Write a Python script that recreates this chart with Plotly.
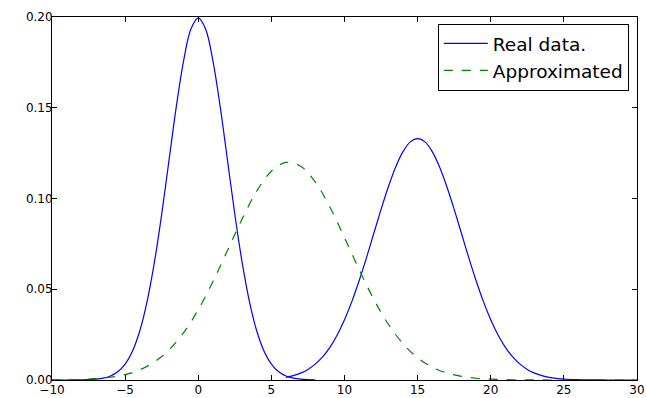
import plotly.graph_objects as go

# Real data: two separate bumps, sampled along x
real_left_x = [-10, -9.5, -9, -8.5, -8, -7.5, -7, -6.5, -6, -5.5, -5, -4.5, -4, -3.5, -3, -2.5, -2, -1.5, -1, -0.5,
               0, 0.5, 1, 1.5, 2, 2.5, 3, 3.5, 4, 4.5, 5, 5.5, 6, 6.5, 7, 7.5, 8]
real_left_y = [0.0, 0.0, 0.00001, 0.00002, 0.00007, 0.00018, 0.00044, 0.00101, 0.00222, 0.00455, 0.00876,
               0.0159, 0.0270, 0.0432, 0.0648, 0.0913, 0.1210, 0.1506, 0.1760, 0.1934,
               0.1995, 0.1934, 0.1760, 0.1506, 0.1210, 0.0913, 0.0648, 0.0432, 0.0270, 0.0159,
               0.00876, 0.00455, 0.00222, 0.00101, 0.00044, 0.00018, 0.00007]

real_right_x = [6, 6.5, 7, 7.5, 8, 8.5, 9, 9.5, 10, 10.5, 11, 11.5, 12, 12.5, 13, 13.5, 14, 14.5,
                15, 15.5, 16, 16.5, 17, 17.5, 18, 18.5, 19, 19.5, 20, 20.5, 21, 21.5, 22, 22.5,
                23, 23.5, 24, 25, 26, 27, 28, 29, 30]
real_right_y = [0.00148, 0.00240, 0.00380, 0.00584, 0.00874, 0.0127, 0.0180, 0.0248, 0.0332, 0.0432,
                0.0547, 0.0673, 0.0807, 0.0940, 0.1065, 0.1174, 0.1258, 0.1312,
                0.1330, 0.1312, 0.1258, 0.1174, 0.1065, 0.0940, 0.0807, 0.0673, 0.0547, 0.0432,
                0.0332, 0.0248, 0.0180, 0.0127, 0.00874, 0.00584, 0.00380, 0.00240, 0.00148,
                0.00052, 0.00016, 0.00004, 0.00001, 0.0, 0.0]

# Approximating curve
approx_x = list(range(-10, 31))
approx_y = [0.00005, 0.00013, 0.00032, 0.00071, 0.00150, 0.00298, 0.00560, 0.00992, 0.01656, 0.02606,
            0.03868, 0.05411, 0.07138, 0.08875, 0.1041, 0.1150, 0.1199, 0.1178, 0.1091, 0.0953,
            0.0784, 0.0609, 0.0445, 0.0307, 0.0200, 0.01226, 0.00709, 0.00386, 0.00199, 0.00096,
            0.00044, 0.00019, 0.00008, 0.00003, 0.00001, 0.0, 0.0, 0.0, 0.0, 0.0, 0.0]

x_ticks = [-10, -5, 0, 5, 10, 15, 20, 25, 30]
y_ticks = [0.00, 0.05, 0.10, 0.15, 0.20]

fig = go.Figure()
fig.add_trace(go.Scatter(x=real_left_x, y=real_left_y, mode="lines", name="Real data.",
                         legendgroup="real", line=dict(color="#0000ff", width=1.2, shape="spline")))
fig.add_trace(go.Scatter(x=real_right_x, y=real_right_y, mode="lines", name="Real data.",
                         legendgroup="real", showlegend=False,
                         line=dict(color="#0000ff", width=1.2, shape="spline")))
fig.add_trace(go.Scatter(x=approx_x, y=approx_y, mode="lines", name="Approximated",
                         line=dict(color="#008000", width=1.2, dash="dash", shape="spline")))

axis_common = dict(showgrid=False, zeroline=False, showline=True, linecolor="black", linewidth=1,
                   mirror="ticks", ticks="inside", ticklen=5, tickwidth=1, tickcolor="black",
                   automargin=False,
                   tickfont=dict(family="DejaVu Sans", size=12, color="black"))

fig.update_xaxes(range=[-10, 30], tickvals=x_ticks, ticklabelstandoff=-1, **axis_common)
fig.update_yaxes(range=[0, 0.20], tickvals=y_ticks, tickformat=".2f", ticklabelstandoff=-4,
                 **axis_common)

fig.update_layout(
    width=646, height=398,
    margin=dict(l=52, r=9, t=17, b=18),
    paper_bgcolor="white", plot_bgcolor="white",
    font=dict(family="DejaVu Sans", color="black"),
    legend=dict(x=0.986, y=0.981, xanchor="right", yanchor="top",
                bgcolor="white", bordercolor="black", borderwidth=1,
                font=dict(family="DejaVu Sans", size=18.5, color="black"),
                itemwidth=44, tracegroupgap=0),
    showlegend=True,
)

fig.write_html("out.html")
